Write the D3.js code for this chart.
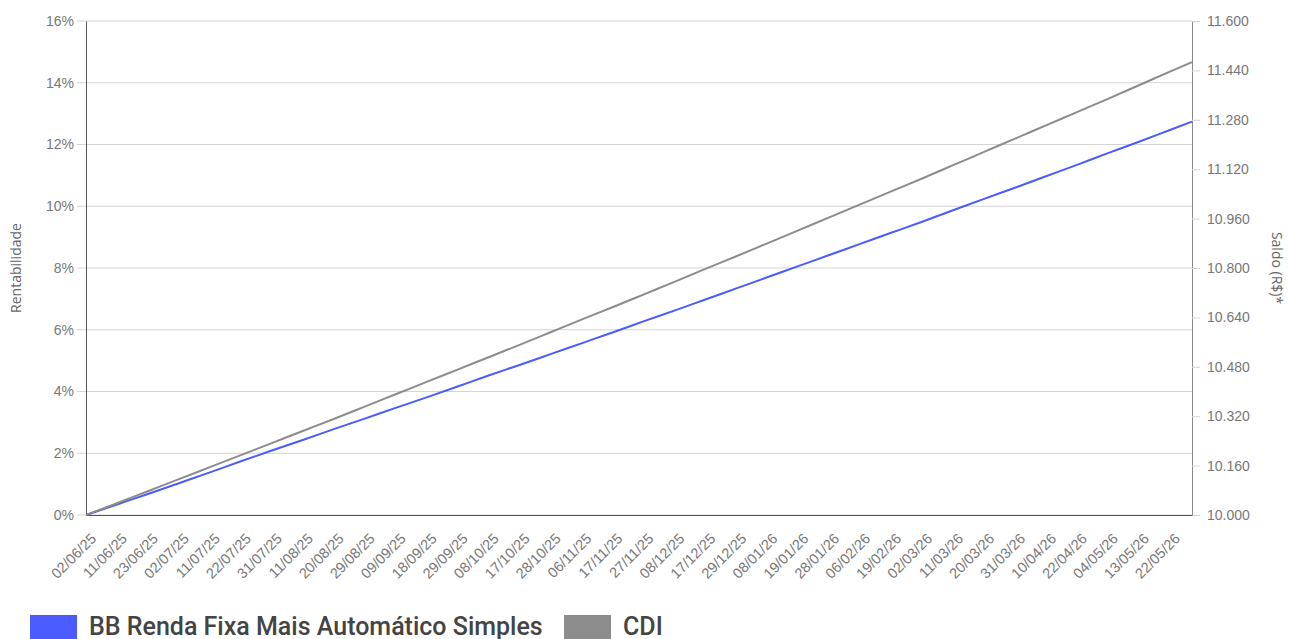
<!DOCTYPE html>
<html>
<head>
<meta charset="utf-8">
<script src="https://cdn.jsdelivr.net/npm/d3@7"></script>
<style>
  body { margin: 0; background: #fff; }
  svg { display: block; font-family: "Open Sans", sans-serif; }
</style>
</head>
<body>
<div id="chart"></div>
<script>
// data
var dates = ["02/06/25","11/06/25","23/06/25","02/07/25","11/07/25","22/07/25","31/07/25","11/08/25",
  "20/08/25","29/08/25","09/09/25","18/09/25","29/09/25","08/10/25","17/10/25","28/10/25","06/11/25",
  "17/11/25","27/11/25","08/12/25","17/12/25","29/12/25","08/01/26","19/01/26","28/01/26","06/02/26",
  "19/02/26","02/03/26","11/03/26","20/03/26","31/03/26","10/04/26","22/04/26","04/05/26","13/05/26",
  "22/05/26","29/05/26"];
// business day number of each date
var businessDay = [0,7,14,21,28,35,42,49,56,63,70,77,84,91,98,105,112,119,126,133,140,147,154,161,
  168,175,182,189,196,203,210,217,224,231,238,245,250];
// Rentabilidade (%)
var bbValues = [0,0.34,0.68,1.03,1.38,1.74,2.09,2.43,2.78,3.12,3.47,3.81,4.16,4.52,4.86,5.21,5.56,
  5.91,6.27,6.62,6.98,7.34,7.70,8.06,8.42,8.78,9.14,9.50,9.87,10.24,10.60,10.97,11.34,11.72,12.09,
  12.47,12.74];
var cdiValues = [0,0.38,0.77,1.16,1.55,1.94,2.33,2.72,3.11,3.51,3.91,4.31,4.71,5.11,5.51,5.92,6.33,
  6.73,7.14,7.55,7.97,8.38,8.80,9.22,9.64,10.06,10.48,10.90,11.33,11.76,12.19,12.62,13.05,13.48,13.92,
  14.36,14.67];
var leftTicks = [0,2,4,6,8,10,12,14,16];
var rightTicks = [10000,10160,10320,10480,10640,10800,10960,11120,11280,11440,11600];
var seriesNames = ["BB Renda Fixa Mais Automático Simples", "CDI"];
var seriesColors = ["#4a5bff", "#8c8c8c"];

var width = 1289, height = 639;
var margin = { top: 21, right: 97, bottom: 124, left: 86 };
var innerW = width - margin.left - margin.right;
var innerH = height - margin.top - margin.bottom;

var svg = d3.select("#chart").append("svg")
  .attr("width", width)
  .attr("height", height);

var g = svg.append("g")
  .attr("transform", "translate(" + margin.left + "," + margin.top + ")");

var x = d3.scaleLinear().domain([0, 250]).range([0, innerW]);
var y = d3.scaleLinear().domain([0, 16]).range([innerH, 0]);
var yRight = d3.scaleLinear().domain([10000, 11600]).range([innerH, 0]);

var br = d3.formatLocale({ decimal: ",", thousands: ".", grouping: [3], currency: ["R$", ""] });

// grid lines
g.append("g")
  .selectAll("line")
  .data(leftTicks)
  .enter()
  .append("line")
  .attr("x1", -9)
  .attr("x2", innerW)
  .attr("y1", function (d) { return y(d); })
  .attr("y2", function (d) { return y(d); })
  .attr("stroke", "#d4d4d4")
  .attr("stroke-width", 1);

// left axis
var leftAxis = g.append("g")
  .call(d3.axisLeft(y).tickValues(leftTicks).tickSize(0).tickPadding(12)
    .tickFormat(function (d) { return d + "%"; }));
leftAxis.select(".domain").attr("stroke", "#555");
leftAxis.selectAll("text").attr("fill", "#777").style("font-size", "14px");

// right axis
var rightAxis = g.append("g")
  .attr("transform", "translate(" + innerW + ",0)")
  .call(d3.axisRight(yRight).tickValues(rightTicks).tickSize(8).tickPadding(7)
    .tickFormat(br.format(",d")));
rightAxis.select(".domain").attr("stroke", "#888");
rightAxis.selectAll(".tick line").attr("stroke", "#d4d4d4");
rightAxis.selectAll("text").attr("fill", "#777").style("font-size", "14px");

// bottom axis
var bottomAxis = g.append("g")
  .attr("transform", "translate(0," + innerH + ")")
  .call(d3.axisBottom(x).tickValues(businessDay.slice(0, 36)).tickSize(0)
    .tickFormat(function (d, i) { return dates[i]; }));
bottomAxis.select(".domain").attr("stroke", "#555");
bottomAxis.selectAll("text")
  .attr("fill", "#777")
  .style("font-size", "14.5px")
  .style("text-anchor", "end")
  .attr("dy", "0.35em")
  .attr("y", 0)
  .attr("transform", "translate(7,21) rotate(-45)");

// lines
var points = businessDay.map(function (d, i) {
  return { day: d, bb: bbValues[i], cdi: cdiValues[i] };
});
var series = ["bb", "cdi"];
series.forEach(function (key, k) {
  var line = d3.line()
    .x(function (d) { return x(d.day); })
    .y(function (d) { return y(d[key]); })
    .curve(d3.curveMonotoneX);
  g.append("path")
    .datum(points)
    .attr("fill", "none")
    .attr("stroke", seriesColors[k])
    .attr("stroke-width", 2)
    .attr("d", line);
});

// axis titles
svg.append("text")
  .attr("transform", "translate(21," + (margin.top + innerH / 2) + ") rotate(-90)")
  .attr("text-anchor", "middle")
  .attr("fill", "#666")
  .style("font-size", "14px")
  .text("Rentabilidade");

svg.append("text")
  .attr("transform", "translate(1272," + (margin.top + innerH / 2) + ") rotate(90)")
  .attr("text-anchor", "middle")
  .attr("fill", "#666")
  .style("font-size", "14px")
  .text("Saldo (R$)*");

// legend
var legendX = [30, 564];
var legend = svg.append("g");
seriesNames.forEach(function (name, k) {
  legend.append("rect")
    .attr("x", legendX[k])
    .attr("y", 615)
    .attr("width", 47)
    .attr("height", 26)
    .attr("fill", seriesColors[k]);
  legend.append("text")
    .attr("x", legendX[k] + 59)
    .attr("y", 635)
    .attr("fill", "#444")
    .style("font-family", "Roboto, sans-serif")
    .style("font-size", "25px")
    .style("font-weight", "500")
    .text(name);
});
</script>
</body>
</html>
